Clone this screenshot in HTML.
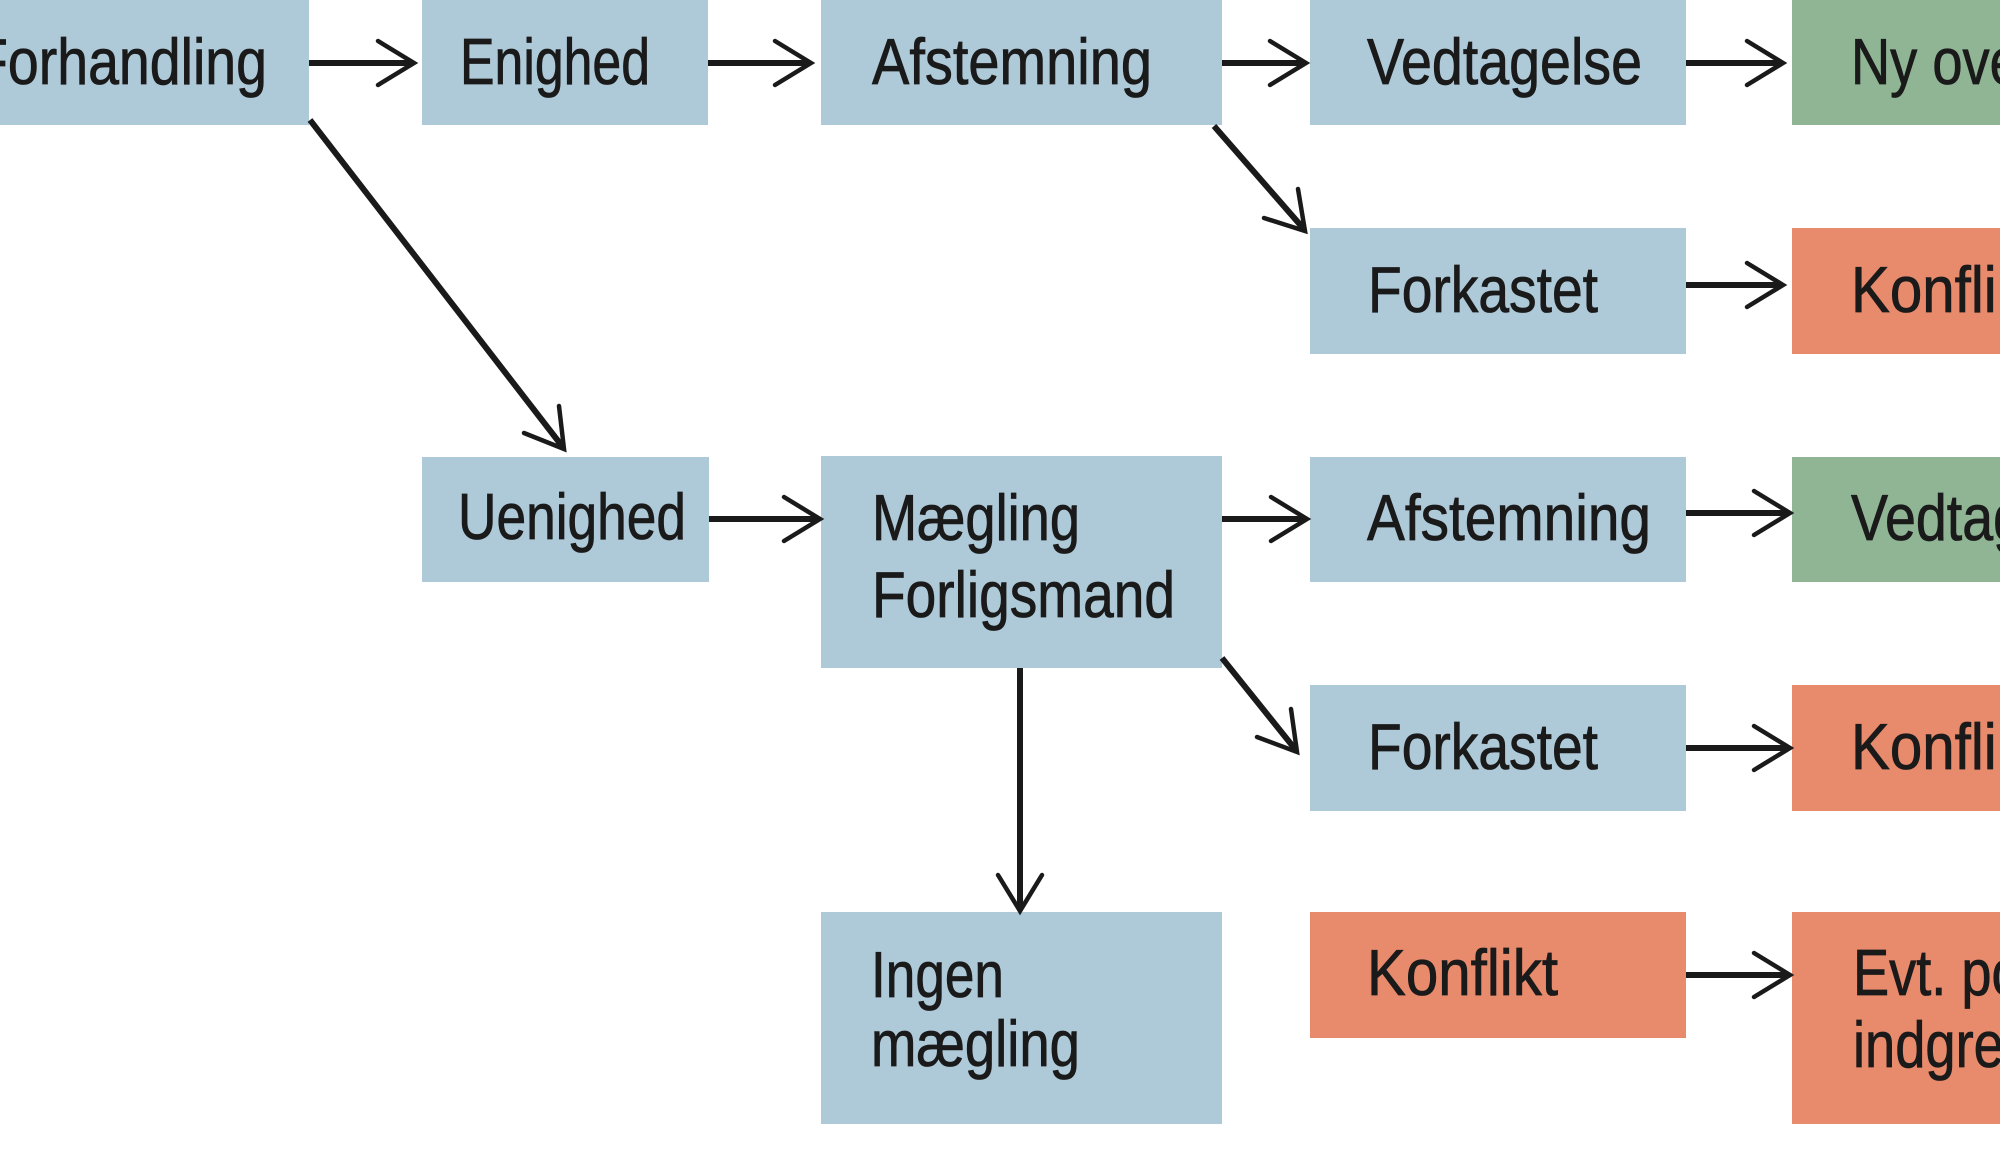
<!DOCTYPE html>
<html>
<head>
<meta charset="utf-8">
<style>
  html, body { margin: 0; padding: 0; background: #ffffff; }
  body { width: 2000px; height: 1165px; overflow: hidden; }
  svg { display: block; }
  text { font-family: "Liberation Sans", "DejaVu Sans", sans-serif; font-size: 65px; fill: #1a1a1a; stroke: #1a1a1a; stroke-width: 0.8px; }
</style>
</head>
<body>
<svg width="2000" height="1165" viewBox="0 0 2000 1165" xmlns="http://www.w3.org/2000/svg">
  <rect x="0" y="0" width="2000" height="1165" fill="#ffffff"/>

  <!-- Blue boxes -->
  <g fill="#aec9d8">
    <rect x="-10" y="-5" width="319" height="130"/>
    <rect x="422" y="-5" width="286" height="130"/>
    <rect x="821" y="-5" width="401" height="130"/>
    <rect x="1310" y="-5" width="376" height="130"/>
    <rect x="1310" y="228" width="376" height="126"/>
    <rect x="422" y="457" width="287" height="125"/>
    <rect x="821" y="456" width="401" height="212"/>
    <rect x="1310" y="457" width="376" height="125"/>
    <rect x="1310" y="685" width="376" height="126"/>
    <rect x="821" y="912" width="401" height="212"/>
  </g>
  <!-- Green boxes -->
  <g fill="#8fb595">
    <rect x="1792" y="-5" width="220" height="130"/>
    <rect x="1792" y="457" width="220" height="125"/>
  </g>
  <!-- Orange boxes -->
  <g fill="#e88a6c">
    <rect x="1792" y="228" width="220" height="126"/>
    <rect x="1792" y="685" width="220" height="126"/>
    <rect x="1310" y="912" width="376" height="126"/>
    <rect x="1792" y="912" width="220" height="212"/>
  </g>

  <!-- Labels -->
  <text x="-26" y="84" textLength="293" lengthAdjust="spacingAndGlyphs">Forhandling</text>
  <text x="460" y="84" textLength="190" lengthAdjust="spacingAndGlyphs">Enighed</text>
  <text x="872" y="84" textLength="280" lengthAdjust="spacingAndGlyphs">Afstemning</text>
  <text x="1367" y="84" textLength="275" lengthAdjust="spacingAndGlyphs">Vedtagelse</text>
  <text x="1851" y="84" textLength="419" lengthAdjust="spacingAndGlyphs">Ny overenskomst</text>

  <text x="1368" y="312" textLength="230" lengthAdjust="spacingAndGlyphs">Forkastet</text>
  <text x="1851" y="312" textLength="191" lengthAdjust="spacingAndGlyphs">Konflikt</text>

  <text x="458" y="539" textLength="228" lengthAdjust="spacingAndGlyphs">Uenighed</text>
  <text x="872" y="540" textLength="208" lengthAdjust="spacingAndGlyphs">Mægling</text>
  <text x="872" y="617" textLength="303" lengthAdjust="spacingAndGlyphs">Forligsmand</text>
  <text x="1367" y="540" textLength="284" lengthAdjust="spacingAndGlyphs">Afstemning</text>
  <text x="1851" y="540" textLength="275" lengthAdjust="spacingAndGlyphs">Vedtagelse</text>

  <text x="1368" y="769" textLength="230" lengthAdjust="spacingAndGlyphs">Forkastet</text>
  <text x="1851" y="769" textLength="191" lengthAdjust="spacingAndGlyphs">Konflikt</text>

  <text x="871" y="997" textLength="133" lengthAdjust="spacingAndGlyphs">Ingen</text>
  <text x="871" y="1066" textLength="209" lengthAdjust="spacingAndGlyphs">mægling</text>
  <text x="1367" y="995" textLength="191" lengthAdjust="spacingAndGlyphs">Konflikt</text>
  <text x="1853" y="995" textLength="274" lengthAdjust="spacingAndGlyphs">Evt. politisk</text>
  <text x="1853" y="1067" textLength="181" lengthAdjust="spacingAndGlyphs">indgreb</text>

  <!-- Arrow shafts -->
  <g stroke="#1a1a1a" stroke-width="6" fill="none" stroke-linecap="butt">
    <line x1="309" y1="63" x2="411" y2="63"/>
    <line x1="708" y1="63" x2="808" y2="63"/>
    <line x1="1222" y1="63" x2="1303" y2="63"/>
    <line x1="1686" y1="63" x2="1780" y2="63"/>
    <line x1="1686" y1="285" x2="1780" y2="285"/>
    <line x1="709" y1="519" x2="817" y2="519"/>
    <line x1="1222" y1="519" x2="1304" y2="519"/>
    <line x1="1686" y1="513" x2="1787" y2="513"/>
    <line x1="1686" y1="748" x2="1787" y2="748"/>
    <line x1="1686" y1="975" x2="1787" y2="975"/>
    <line x1="310" y1="120" x2="562" y2="446"/>
    <line x1="1214" y1="126" x2="1303" y2="228"/>
    <line x1="1222" y1="658" x2="1295" y2="749"/>
    <line x1="1020" y1="668" x2="1020" y2="908"/>
  </g>

  <!-- Arrow heads (open chevrons) -->
  <g stroke="#1a1a1a" stroke-width="4.5" fill="none" stroke-linecap="round" stroke-linejoin="miter">
    <polyline points="378,41 414,63 378,85"/>
    <polyline points="775,41 811,63 775,85"/>
    <polyline points="1270,41 1306,63 1270,85"/>
    <polyline points="1747,41 1783,63 1747,85"/>
    <polyline points="1747,263 1783,285 1747,307"/>
    <polyline points="784,497 820,519 784,541"/>
    <polyline points="1271,497 1307,519 1271,541"/>
    <polyline points="1754,491 1790,513 1754,535"/>
    <polyline points="1754,726 1790,748 1754,770"/>
    <polyline points="1754,953 1790,975 1754,997"/>
    <polyline points="559,406 564,449 524,433"/>
    <polyline points="1298,189 1305,231 1264,218"/>
    <polyline points="1291,709 1297,752 1257,737"/>
    <polyline points="998,875 1020,911 1042,875"/>
  </g>
</svg>
</body>
</html>
